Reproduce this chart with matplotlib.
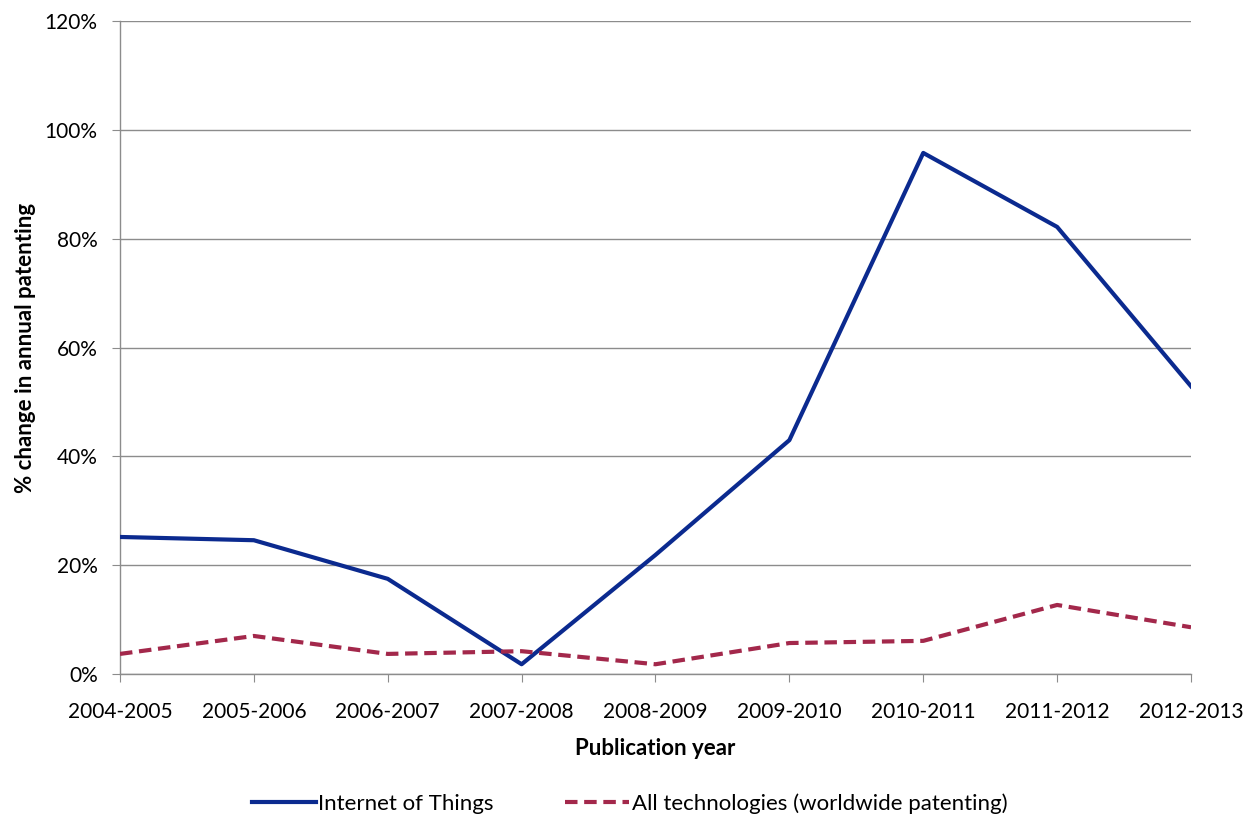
import matplotlib
matplotlib.use("Agg")
import matplotlib.pyplot as plt
from matplotlib.ticker import FuncFormatter

plt.rcParams['font.family'] = ['Lato', 'DejaVu Sans']

years = ['2004-2005', '2005-2006', '2006-2007', '2007-2008', '2008-2009',
         '2009-2010', '2010-2011', '2011-2012', '2012-2013']
iot = [25.2, 24.6, 17.5, 1.8, 21.9, 43.0, 95.8, 82.2, 52.9]
all_tech = [3.7, 7.0, 3.7, 4.2, 1.8, 5.7, 6.1, 12.7, 8.6]

fig = plt.figure(figsize=(12.59, 8.19), dpi=100)
ax = fig.add_axes([0.0953, 0.177, 0.8507, 0.797])

x = range(len(years))
ax.plot(x, iot, color='#0B2A8F', lw=3, label='Internet of Things', zorder=3)
ax.plot(x, all_tech, color='#A3284B', lw=3, ls=(0, (3, 1.6)),
        label='All technologies (worldwide patenting)', zorder=3)

ax.set_xlim(0, len(years) - 1)
ax.set_ylim(0, 120)
ax.set_yticks(range(0, 121, 20))
ax.yaxis.set_major_formatter(FuncFormatter(lambda v, p: f'{v:.0f}%'))
ax.set_xticks(list(x))
ax.set_xticklabels(years)
ax.grid(axis='y', color='#8C8C8C', lw=1)
ax.set_axisbelow(True)

for side in ['top', 'right']:
    ax.spines[side].set_visible(False)
for side in ['left', 'bottom']:
    ax.spines[side].set_color('#8C8C8C')
    ax.spines[side].set_linewidth(1)

ax.tick_params(axis='x', length=6, color='#8C8C8C', labelsize=15, pad=14)
ax.tick_params(axis='y', length=6, color='#8C8C8C', labelsize=15, pad=10)

ax.set_xlabel('Publication year', fontsize=16, fontweight='bold', labelpad=12)
ax.set_ylabel('% change in annual patenting', fontsize=16, fontweight='bold', labelpad=6)

fig.legend(loc='lower center', bbox_to_anchor=(0.5, -0.018), ncol=2, frameon=False,
           fontsize=16, handlelength=2.9, handletextpad=0.1, columnspacing=3.2)

fig.savefig('out.png', dpi=100)
